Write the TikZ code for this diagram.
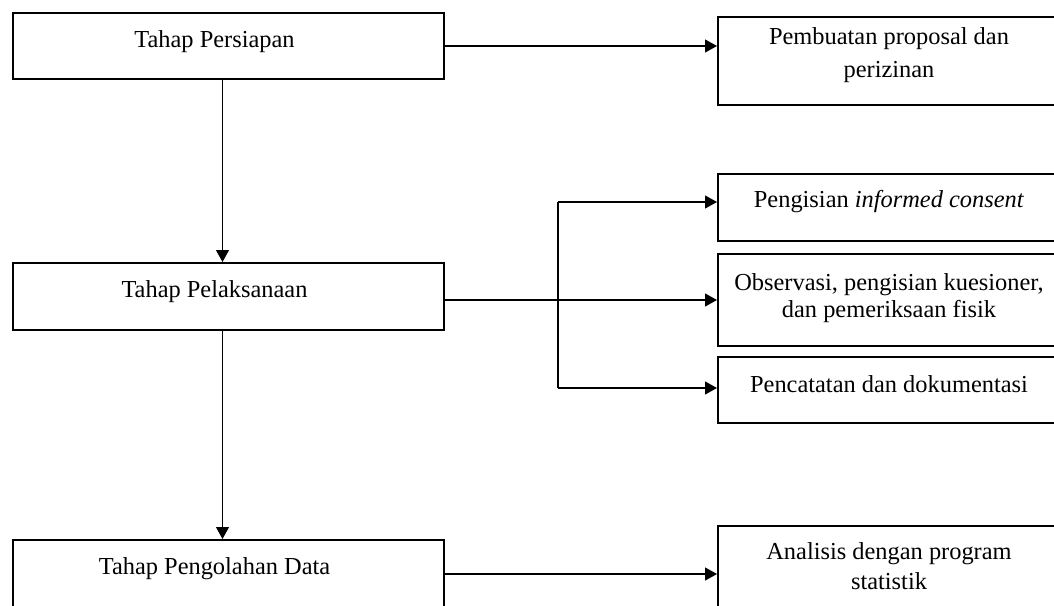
\documentclass[tikz,border=0pt]{standalone}
\usepackage{fontspec}
\setmainfont{Liberation Serif}
\usetikzlibrary{arrows.meta,calc}

\begin{document}
\begin{tikzpicture}[x=0.5pt,y=-0.5pt,
    every node/.style={font=\fontsize{12.2}{15}\selectfont},
    tahap/.style={draw,line width=1pt,anchor=north west,inner sep=0pt,
        minimum width=215.5pt,align=center,execute at end node=\hspace*{14pt}},
    kegiatan/.style={draw,line width=1pt,anchor=north west,inner sep=0pt,
        minimum width=171pt,align=center},
    panah/.style={line width=0.6pt,-{Triangle[length=6pt,width=6.5pt]}}]
                        \clip (0,0) rectangle (1054,605);
                        \node[tahap,text height=17pt,text depth=16pt] (persiapan) at (12,12) {Tahap Persiapan};
                        \node[tahap,text height=17pt,text depth=16.5pt] (pelaksanaan) at (12,262) {Tahap Pelaksanaan};
                        \node[tahap,text height=17pt,text depth=17pt] (pengolahan) at (12,539) {Tahap Pengolahan Data};
                        \node[kegiatan,text height=30pt,text depth=14pt] (proposal) at (717,16) {Pembuatan proposal dan\\[1.5pt]perizinan};
                        \node[kegiatan,text height=16.8pt,text depth=16.6pt] (consent) at (717,173) {Pengisian \textit{informed consent}};
                        \node[kegiatan,text height=31.8pt,text depth=14.2pt] (observasi) at (717,253) {Observasi, pengisian kuesioner,\\[-1.5pt]dan pemeriksaan fisik};
                        \node[kegiatan,text height=17.8pt,text depth=15.2pt] (catat) at (717,356) {Pencatatan dan dokumentasi};
                        \node[kegiatan,text height=31.5pt,text depth=12pt] (analisis) at (717,525) {Analisis dengan program\\statistik};
                        \coordinate (cabangatas) at (558,202);
                        \coordinate (cabangbawah) at (558,388);
                        \path[panah]
                        (persiapan.east) edge (persiapan.east -| proposal.west)
                        ([xshift=-3pt]persiapan.south) edge ([xshift=-3pt]pelaksanaan.north)
                        (pelaksanaan.east |- observasi.west) edge (observasi.west)
                        ([xshift=-3pt]pelaksanaan.south) edge ([xshift=-3pt]pengolahan.north)
                        (pengolahan.east) edge (pengolahan.east -| analisis.west)
                        (cabangatas) edge (cabangatas -| consent.west)
                        (cabangbawah) edge (cabangbawah -| catat.west);
                        \draw[line width=0.6pt] (cabangatas) -- (cabangbawah);
                        \end{tikzpicture}
\end{document}
